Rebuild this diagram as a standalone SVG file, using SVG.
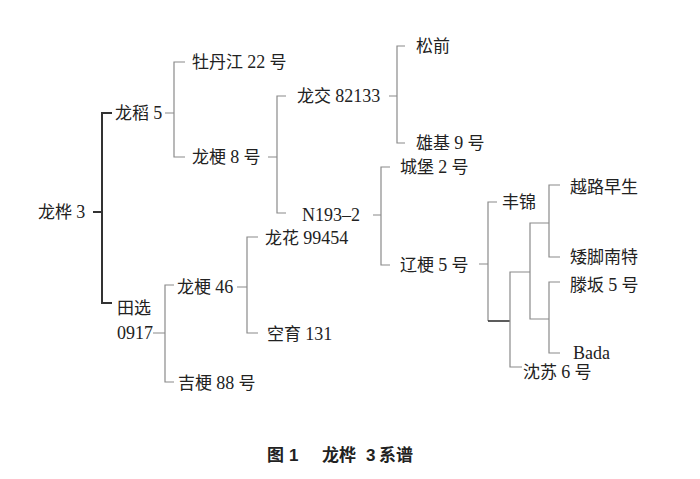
<svg xmlns="http://www.w3.org/2000/svg" width="700" height="479" viewBox="0 0 700 479">
<style>
.t{font-family:"Liberation Serif","Noto Sans CJK SC",serif;font-size:17px;fill:#222}
.n{font-size:18px}
.c{font-family:"Liberation Sans","Noto Sans CJK SC",sans-serif;font-size:17px;font-weight:bold;fill:#222}
.l{fill:none;stroke:#8a8a8a;stroke-width:1.2}
.d{fill:none;stroke:#333;stroke-width:2}
</style>
<rect width="700" height="479" fill="#fff"/>
<g id="connectors">
<path class="d" d="M93,212 H102 M112,113 H102 V303 H112"/>
<path class="l" d="M165,113 H174 M185,62 H174 V157 H185"/>
<path class="l" d="M268,157 H277 M286,96 H277 V213 H286"/>
<path class="l" d="M389,96 H397 M405,46 H397 V143 H405"/>
<path class="l" d="M373,215 H381 M390,167 H381 V265 H390"/>
<path class="l" d="M479,264 H488 M497,202 H488 V321"/>
<path class="d" d="M488,321 H510" style="stroke-width:1.6"/>
<path class="l" d="M530,272 H510 V367 H522"/>
<path class="l" d="M549,223 H530 V319 H549"/>
<path class="l" d="M560,185 H549 V257 H560"/>
<path class="l" d="M560,282 H549 V353 H560"/>
<path class="l" d="M153,333 H165 M174,285 H165 V382 H174"/>
<path class="l" d="M237,287 H247 M258,237 H247 V333 H258"/>
</g>
<g id="n-longhua3"><text class="t" x="38" y="218">龙桦 <tspan class="n">3</tspan></text></g>
<g id="n-longdao5"><text class="t" x="115" y="119">龙稻 <tspan class="n">5</tspan></text></g>
<g id="n-mudanjiang22"><text class="t" x="192" y="68">牡丹江 <tspan class="n">22</tspan> 号</text></g>
<g id="n-longgeng8"><text class="t" x="192" y="163">龙梗 <tspan class="n">8</tspan> 号</text></g>
<g id="n-longjiao82133"><text class="t" x="297" y="102">龙交 <tspan class="n">82133</tspan></text></g>
<g id="n-songqian"><text class="t" x="416" y="52">松前</text></g>
<g id="n-xiongji9"><text class="t" x="416" y="149">雄基 <tspan class="n">9</tspan> 号</text></g>
<g id="n-n1932"><text class="t n" x="302" y="221">N193–2</text></g>
<g id="n-chengbao2"><text class="t" x="400" y="173">城堡 <tspan class="n">2</tspan> 号</text></g>
<g id="n-liaogeng5"><text class="t" x="400" y="271">辽梗 <tspan class="n">5</tspan> 号</text></g>
<g id="n-fengjin"><text class="t" x="502" y="208">丰锦</text></g>
<g id="n-yueluzaosheng"><text class="t" x="570" y="193">越路早生</text></g>
<g id="n-aijiaonante"><text class="t" x="570" y="263">矮脚南特</text></g>
<g id="n-tengban5"><text class="t" x="570" y="291">滕坂 <tspan class="n">5</tspan> 号</text></g>
<g id="n-bada"><text class="t n" x="573" y="359">Bada</text></g>
<g id="n-shensu6"><text class="t" x="523" y="378">沈苏 <tspan class="n">6</tspan> 号</text></g>
<g id="n-tianxuan0917"><text class="t" x="117" y="314">田选</text><text class="t n" x="117" y="339">0917</text></g>
<g id="n-longgeng46"><text class="t" x="177" y="293">龙梗 <tspan class="n">46</tspan></text></g>
<g id="n-longhua99454"><text class="t" x="265" y="244">龙花 <tspan class="n">99454</tspan></text></g>
<g id="n-kongyu131"><text class="t" x="267" y="340">空育 <tspan class="n">131</tspan></text></g>
<g id="n-jigeng88"><text class="t" x="178" y="389">吉梗 <tspan class="n">88</tspan> 号</text></g>
<g id="caption">
<text class="c" x="267" y="461">图</text>
<text class="c" x="289" y="461">1</text>
<text class="c" x="322" y="461">龙桦</text>
<text class="c" x="366" y="461">3</text>
<text class="c" x="379" y="461">系谱</text>
</g>
</svg>
